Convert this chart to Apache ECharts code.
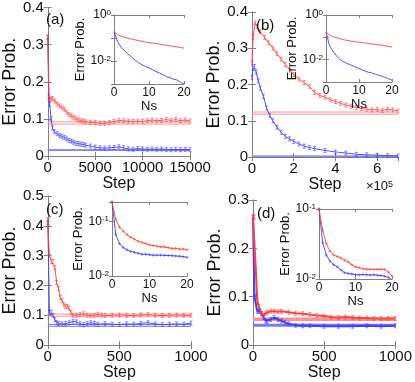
<!DOCTYPE html>
<html>
<head>
    <meta charset="utf-8">
    <script src="https://cdn.jsdelivr.net/npm/echarts@6/dist/echarts.min.js"></script>
</head>
<body style="margin:0">
    <div id="main" style="width:415px;height:382px;"></div>
    <script type="text/javascript">
        // main curves, [step, error prob.]
        var redA = [[0,0.32],[150,0.155],[300,0.152],[500,0.155],[750,0.148],[1000,0.14],[1250,0.135],[1500,0.13],[1750,0.126],[2000,0.118],[2250,0.112],[2500,0.108],[2750,0.104],[3000,0.1],[3250,0.097],[3500,0.095],[3750,0.094],[4000,0.092],[4500,0.091],[5000,0.09],[5500,0.088],[6000,0.088],[6500,0.09],[7000,0.093],[7500,0.096],[8000,0.095],[8500,0.094],[9000,0.093],[9500,0.094],[10000,0.093],[10500,0.095],[11000,0.097],[11500,0.095],[12000,0.096],[12500,0.098],[13000,0.096],[13500,0.098],[14000,0.095],[14500,0.097],[15000,0.094]];
        var blueA = [[0,0.32],[100,0.16],[200,0.14],[350,0.1],[500,0.075],[700,0.065],[1000,0.06],[1250,0.055],[1500,0.053],[1750,0.05],[2000,0.046],[2250,0.042],[2500,0.04],[2750,0.037],[3000,0.034],[3250,0.033],[3500,0.032],[3750,0.031],[4000,0.029],[4500,0.027],[5000,0.024],[5500,0.022],[6000,0.021],[6500,0.022],[7000,0.023],[7500,0.025],[8000,0.022],[8500,0.019],[9000,0.018],[9500,0.02],[10000,0.019],[10500,0.018],[11000,0.019],[11500,0.018],[12000,0.019],[12500,0.018],[13000,0.017],[13500,0.018],[14000,0.017],[14500,0.018],[15000,0.017]];
        var redB = [[0,0.26],[5000,0.33],[15000,0.37],[25000,0.36],[40000,0.345],[60000,0.33],[80000,0.315],[100000,0.3],[120000,0.285],[140000,0.27],[160000,0.255],[180000,0.24],[200000,0.227],[225000,0.215],[250000,0.205],[275000,0.195],[300000,0.178],[325000,0.17],[350000,0.165],[375000,0.158],[400000,0.153],[425000,0.148],[450000,0.143],[475000,0.14],[500000,0.137],[525000,0.134],[550000,0.132],[575000,0.13],[600000,0.131],[625000,0.128],[650000,0.132],[675000,0.13],[700000,0.127]];
        var blueB = [[0,0.22],[5000,0.245],[12000,0.25],[20000,0.235],[30000,0.21],[40000,0.19],[55000,0.167],[70000,0.135],[85000,0.115],[100000,0.1],[120000,0.082],[140000,0.068],[160000,0.057],[180000,0.05],[200000,0.043],[225000,0.036],[250000,0.03],[275000,0.026],[300000,0.023],[350000,0.018],[400000,0.014],[450000,0.011],[500000,0.0075],[550000,0.006],[600000,0.005],[650000,0.004],[700000,0.003]];
        var redC = [[0,0.41],[5,0.41],[12,0.3],[25,0.28],[37,0.28],[50,0.26],[62,0.21],[75,0.19],[87,0.16],[100,0.15],[112,0.135],[125,0.13],[137,0.13],[150,0.125],[162,0.11],[175,0.1],[200,0.1],[225,0.103],[250,0.105],[275,0.1],[300,0.098],[325,0.1],[350,0.103],[375,0.1],[400,0.099],[450,0.1],[500,0.101],[550,0.1],[600,0.099],[650,0.101],[700,0.102],[750,0.1],[800,0.099],[850,0.1],[900,0.101],[950,0.1],[1000,0.1]];
        var blueC = [[0,0.42],[12,0.11],[25,0.11],[37,0.1],[50,0.085],[62,0.075],[75,0.072],[100,0.071],[125,0.072],[150,0.075],[175,0.08],[200,0.078],[225,0.072],[250,0.068],[275,0.072],[300,0.075],[325,0.073],[350,0.07],[400,0.072],[450,0.07],[500,0.069],[550,0.071],[600,0.07],[650,0.073],[700,0.075],[750,0.071],[800,0.069],[850,0.07],[900,0.071],[950,0.07],[1000,0.074]];
        var redD = [[0,0.265],[10,0.265],[20,0.155],[30,0.092],[40,0.08],[50,0.072],[60,0.065],[75,0.062],[90,0.066],[100,0.068],[125,0.07],[150,0.07],[175,0.069],[200,0.07],[250,0.068],[300,0.066],[350,0.065],[400,0.063],[450,0.061],[500,0.06],[550,0.058],[600,0.057],[650,0.058],[700,0.057],[750,0.056],[800,0.056],[850,0.055],[900,0.055],[950,0.055],[1000,0.055]];
        var blueD = [[0,0.265],[10,0.1],[20,0.1],[30,0.07],[40,0.07],[50,0.07],[60,0.065],[75,0.057],[90,0.05],[100,0.049],[125,0.053],[150,0.057],[175,0.053],[200,0.05],[225,0.047],[250,0.044],[300,0.041],[350,0.04],[400,0.04],[500,0.039],[600,0.039],[700,0.039],[800,0.04],[900,0.039],[1000,0.04]];

        // horizontal reference levels
        var redRefA = [0.092, 0.086], blueRefA = [0.017, 0.015];
        var redRefB = [0.124, 0.118], blueRefB = [0.0025, 0.002];
        var redRefC = [0.104, 0.097], blueRefC = [0.069, 0.063];
        var redRefD = [0.055, 0.052], blueRefD = [0.042, 0.040];

        // insets: error prob. vs Ns = 0..20
        var ns = [0,1,2,3,4,5,6,7,8,9,10,11,12,13,14,15,16,17,18,19,20];
        var insRedA = [0.19,0.14,0.12,0.108,0.098,0.089,0.083,0.077,0.072,0.067,0.063,0.06,0.057,0.054,0.051,0.048,0.046,0.043,0.041,0.039,0.036];
        var insBlueA = [0.19,0.07,0.04,0.028,0.02,0.015,0.011,0.0085,0.0068,0.0058,0.005,0.0042,0.0035,0.003,0.0025,0.0021,0.0019,0.0016,0.0015,0.0012,0.001];
        var insRedB = [0.175,0.13,0.11,0.098,0.088,0.08,0.075,0.07,0.066,0.063,0.061,0.058,0.056,0.053,0.05,0.048,0.046,0.044,0.041,0.039,0.037];
        var insBlueB = [0.175,0.045,0.025,0.016,0.011,0.0085,0.0072,0.0062,0.0054,0.0047,0.004,0.0035,0.003,0.0027,0.0025,0.0022,0.002,0.0018,0.0016,0.0014,0.0012];
        var insRedC = [0.225,0.109,0.078,0.066,0.057,0.051,0.047,0.043,0.041,0.039,0.037,0.036,0.035,0.034,0.034,0.033,0.032,0.032,0.031,0.031,0.03];
        var insBlueC = [0.225,0.057,0.039,0.033,0.03,0.028,0.027,0.026,0.025,0.025,0.0245,0.024,0.024,0.024,0.0238,0.0237,0.0235,0.0232,0.023,0.0225,0.022];
        var insRedD = [0.1,0.05,0.032,0.025,0.022,0.021,0.02,0.0186,0.0175,0.016,0.0149,0.0145,0.014,0.0138,0.0138,0.0137,0.0137,0.0138,0.0137,0.0125,0.011];
        var insBlueD = [0.1,0.033,0.022,0.018,0.016,0.0149,0.0135,0.0123,0.012,0.0118,0.0115,0.0115,0.0116,0.0115,0.0114,0.0115,0.0113,0.0112,0.011,0.0105,0.0098];

        var RED = '#ff4040', BLUE = '#4040ff', RED_REF = '#ff9090', BLUE_REF = '#7a7aff';
        var AXIS = '#808080', TXT = '#111';
        var errBar = 'path://M0,0L4,0M2,0L2,6M0,6L4,6';
        var plus = 'path://M0,2L4,2M2,0L2,4';

        var panels = [
            {lab: '(a)', main: [42, 6, 148, 150], ins: [114, 15, 70, 69], xMax: 15000, xInt: 5000, yMax: 0.4, lw: 0.9, refW: 1,
             red: redA, blue: blueA, rRef: redRefA, bRef: blueRefA, iRed: insRedA, iBlue: insBlueA, iMin: 0.001, iMax: 1, iExp: [0, -2], iMark: false},
            {lab: '(b)', main: [252, 12, 146, 145], ins: [326, 15, 66, 67], xMax: 700000, xInt: 200000, yMax: 0.4, sci: true, lw: 0.9, refW: 1,
             red: redB, blue: blueB, rRef: redRefB, bRef: blueRefB, iRed: insRedB, iBlue: insBlueB, iMin: 0.001, iMax: 1, iExp: [0, -2], iMark: false},
            {lab: '(c)', main: [42, 196, 149, 152], ins: [112, 202, 75, 74], xMax: 1000, xInt: 500, yMax: 0.5, lw: 0.9, refW: 1,
             red: redC, blue: blueC, rRef: redRefC, bRef: blueRefC, iRed: insRedC, iBlue: insBlueC, iMin: 0.01, iMax: 0.225, iExp: [-1, -2], iMark: true},
            {lab: '(d)', main: [253, 200, 149, 149], ins: [319, 209, 73, 70], xMax: 1000, xInt: 500, yMax: 0.3, lw: 2, refW: 2,
             red: redD, blue: blueD, rRef: redRefD, bRef: blueRefD, iRed: insRedD, iBlue: insBlueD, iMin: 0.01, iMax: 0.1, iExp: [-1, -2], iMark: true}
        ];

        var grids = [], xAxes = [], yAxes = [], series = [], graphics = [];

        function pairs(xs, ys) {
            var out = [];
            for (var i = 0; i < xs.length; i++) out.push([xs[i], ys[i]]);
            return out;
        }

        function logLabeler(exps) {
            return function (v) {
                var e = Math.log(v) / Math.LN10;
                if (Math.abs(e - Math.round(e)) > 0.01) return '';
                e = Math.round(e);
                return exps.indexOf(e) >= 0 ? '10{s|' + e + '}' : '';
            };
        }

        function addAxes(gi, xc, yc, inset) {
            var z = inset ? 11 : 1;
            var fs = inset ? 12 : 15;
            var line = {show: true, lineStyle: {color: AXIS, width: 1}};
            var tick = {inside: true, length: inset ? 3 : 4, lineStyle: {color: AXIS}};
            var lab = {color: TXT, fontSize: fs, margin: inset ? 3 : 4};
            xAxes.push(Object.assign({gridIndex: gi, position: 'bottom', z: z, axisLine: line, axisTick: tick,
                axisLabel: Object.assign({}, lab, xc.label || {}), splitLine: {show: false},
                nameTextStyle: {color: TXT, fontSize: inset ? 13 : 16}}, xc.cfg));
            xAxes.push(Object.assign({gridIndex: gi, position: 'top', z: z, axisLine: line, axisTick: tick,
                axisLabel: {show: false}, splitLine: {show: false}}, xc.cfg, {name: ''}));
            yAxes.push(Object.assign({gridIndex: gi, position: 'left', z: z, axisLine: line, axisTick: tick,
                axisLabel: Object.assign({}, lab, yc.label || {}), splitLine: {show: false},
                nameTextStyle: {color: TXT, fontSize: inset ? 13 : 18}}, yc.cfg));
            yAxes.push(Object.assign({gridIndex: gi, position: 'right', z: z, axisLine: line, axisTick: tick,
                axisLabel: {show: false}, splitLine: {show: false}}, yc.cfg, {name: ''}));
        }

        function refLine(gi, xMax, y, color, w) {
            series.push({type: 'line', xAxisIndex: gi * 2, yAxisIndex: gi * 2, data: [[0, y], [xMax, y]],
                symbol: 'none', silent: true, lineStyle: {color: color, width: w}, z: 2});
        }

        panels.forEach(function (p, k) {
            var gm = k * 2, gs = k * 2 + 1;
            grids.push({left: p.main[0], top: p.main[1], width: p.main[2], height: p.main[3]});
            grids.push({left: p.ins[0], top: p.ins[1], width: p.ins[2], height: p.ins[3], show: true,
                backgroundColor: '#fff', borderWidth: 0, z: 10});

            addAxes(gm,
                {cfg: {type: 'value', min: 0, max: p.xMax, interval: p.xInt, name: 'Step', nameLocation: 'middle', nameGap: 19},
                 label: p.sci ? {showMaxLabel: false, formatter: function (v) { return String(v / 100000); }}
                              : {formatter: function (v) { return String(v); }}},
                {cfg: {type: 'value', min: 0, max: p.yMax, interval: 0.1, name: 'Error Prob.', nameLocation: 'middle', nameGap: 24}},
                false);
            addAxes(gs,
                {cfg: {type: 'value', min: 0, max: 20, interval: 10, name: 'Ns', nameLocation: 'middle', nameGap: 15}},
                {cfg: {type: 'log', logBase: 10, min: p.iMin, max: p.iMax, name: 'Error Prob.', nameLocation: 'middle', nameGap: 22},
                 label: {formatter: logLabeler(p.iExp), rich: {s: {fontSize: 8, verticalAlign: 'top', lineHeight: 8, color: TXT}}}},
                true);

            p.rRef.forEach(function (y) { refLine(gm, p.xMax, y, RED_REF, p.refW); });
            p.bRef.forEach(function (y) { refLine(gm, p.xMax, y, BLUE_REF, p.refW); });

            [[p.blue, BLUE], [p.red, RED]].forEach(function (s) {
                series.push({type: 'line', xAxisIndex: gm * 2, yAxisIndex: gm * 2, data: s[0], z: 3,
                    symbol: errBar, symbolSize: [3, 4], showAllSymbol: true,
                    itemStyle: {color: s[1], borderColor: s[1], borderWidth: 0.6},
                    lineStyle: {color: s[1], width: p.lw}});
            });
            [[p.iBlue, BLUE], [p.iRed, RED]].forEach(function (s) {
                series.push({type: 'line', xAxisIndex: gs * 2, yAxisIndex: gs * 2, data: pairs(ns, s[0]), z: 12,
                    symbol: p.iMark ? plus : 'none', symbolSize: 3, showAllSymbol: true,
                    itemStyle: {color: s[1], borderColor: s[1], borderWidth: 0.6},
                    lineStyle: {color: s[1], width: 0.9}});
            });

            graphics.push({type: 'text', left: p.main[0] + 4, top: p.main[1] + 6, z: 20,
                style: {text: p.lab, fontSize: 15, fill: TXT, fontFamily: 'Liberation Sans'}});
        });

        graphics.push({type: 'text', left: 366, top: 180, z: 20,
            style: {text: '\u00d710{s|5}', fontSize: 13, fill: TXT, fontFamily: 'Liberation Sans',
                rich: {s: {fontSize: 9, verticalAlign: 'top', lineHeight: 8, fill: TXT}}}});

        var chart = echarts.init(document.getElementById('main'));
        chart.setOption({
            animation: false,
            textStyle: {fontFamily: 'Liberation Sans'},
            grid: grids,
            xAxis: xAxes,
            yAxis: yAxes,
            series: series,
            graphic: graphics
        });
    </script>
</body>
</html>
